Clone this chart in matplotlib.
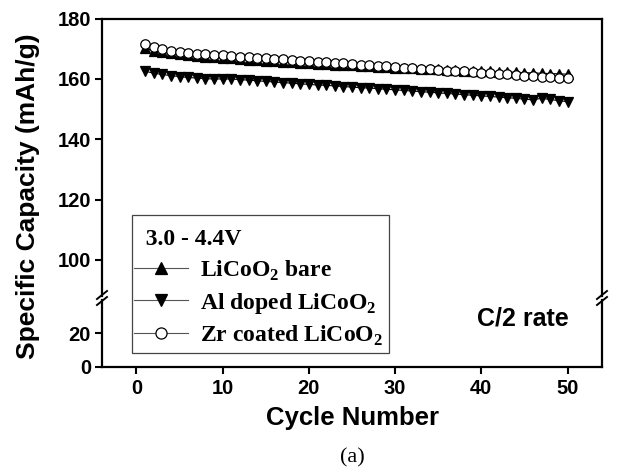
import matplotlib

matplotlib.use("Agg")
import matplotlib.pyplot as plt
from matplotlib.lines import Line2D
from matplotlib.patches import Rectangle
import numpy as np

plt.rcParams["font.family"] = ["Liberation Sans", "DejaVu Sans"]
plt.rcParams["font.weight"] = "bold"
plt.rcParams["mathtext.fontset"] = "custom"
plt.rcParams["mathtext.rm"] = "Liberation Serif:bold"
plt.rcParams["mathtext.bf"] = "Liberation Serif:bold"

cycles = np.arange(1, 51)

bare = [170.2, 169.4, 168.9, 168.5, 168.2, 167.9, 167.6, 167.4, 167.2, 167.0,
        166.8, 166.6, 166.4, 166.3, 166.1, 165.9, 165.8, 165.6, 165.4, 165.3,
        165.1, 165.0, 164.8, 164.7, 164.5, 164.4, 164.2, 164.1, 163.9, 163.8,
        163.7, 163.5, 163.4, 163.3, 163.2, 163.1, 162.9, 162.8, 162.7, 162.6,
        162.5, 162.4, 162.3, 162.2, 162.1, 162.0, 161.9, 161.8, 161.7, 161.6]

al_doped = [162.6, 161.9, 161.5, 161.1, 160.8, 160.5, 160.3, 160.1, 160.0, 160.0,
            160.0, 159.8, 159.6, 159.4, 159.2, 159.0, 158.8, 158.6, 158.4, 158.2,
            158.0, 157.9, 157.7, 157.5, 157.3, 157.1, 157.0, 156.8, 156.6, 156.4,
            156.2, 156.0, 155.8, 155.6, 155.4, 155.2, 155.0, 154.8, 154.6, 154.4,
            154.2, 154.0, 153.8, 153.6, 153.3, 153.1, 153.6, 153.2, 152.8, 152.5]

zr_coated = [171.6, 170.6, 169.9, 169.4, 169.0, 168.7, 168.4, 168.2, 168.0, 167.8,
             167.6, 167.4, 167.2, 167.0, 166.8, 166.6, 166.5, 166.3, 166.1, 165.9,
             165.8, 165.6, 165.4, 165.2, 165.0, 164.8, 164.6, 164.4, 164.2, 164.0,
             163.8, 163.6, 163.4, 163.2, 163.0, 162.8, 162.6, 162.5, 162.3, 162.1,
             161.9, 161.7, 161.5, 161.3, 161.1, 160.9, 160.8, 160.6, 160.4, 160.2]

series = [
    ("LiCoO$_\\mathrm{2}$ bare", bare, "^", "black"),
    ("Al doped LiCoO$_\\mathrm{2}$", al_doped, "v", "black"),
    ("Zr coated LiCoO$_\\mathrm{2}$", zr_coated, "o", "white"),
]

upper_ticks = [100, 120, 140, 160, 180]
lower_ticks = [0, 20]
x_ticks = [0, 10, 20, 30, 40, 50]

W, H = 618, 473
fig = plt.figure(figsize=(W / 100, H / 100), dpi=100)
left, width = 102 / W, 500 / W
ax_top = fig.add_axes([left, 1 - 296 / H, width, (296 - 18.7) / H])
ax_bot = fig.add_axes([left, 1 - 366.7 / H, width, (366.7 - 300) / H])

for ax in (ax_top, ax_bot):
    for name, y, marker, face in series:
        ax.plot(cycles, y, color="black", lw=0.8, marker=marker, ms=6.8,
                mfc=face, mec="black", mew=0.9)
    ax.set_xlim(-4, 54)
    for sp in ax.spines.values():
        sp.set_linewidth(1.6)
    ax.tick_params(direction="out", length=5, width=1.5, labelsize=14.5,
                   right=False, top=False, pad=3)
    for lbl in ax.get_xticklabels() + ax.get_yticklabels():
        lbl.set_fontweight("bold")

ax_top.set_ylim(88, 180)
ax_top.set_yticks(upper_ticks)
ax_top.spines["bottom"].set_visible(False)
ax_top.tick_params(bottom=False, labelbottom=False)

ax_bot.set_ylim(0, 40)
ax_bot.set_yticks(lower_ticks)
ax_bot.set_xticks(x_ticks)
ax_bot.spines["top"].set_visible(False)
ax_bot.tick_params(axis="x", pad=4)

# break marks
for xf in (0, 1):
    for ypix in (295, 301):
        xs = [(102 + 500 * xf - 5) / W, (102 + 500 * xf + 5) / W]
        ys = [1 - (ypix + 4) / H, 1 - (ypix - 4) / H]
        fig.add_artist(Line2D(xs, ys, color="black", lw=1.4))

fig.text(28 / W, 1 - 196 / H, "Specific Capacity (mAh/g)", rotation=90,
         ha="center", va="center", fontsize=19, fontweight="bold")
fig.text(352 / W, 1 - 418 / H, "Cycle Number", ha="center", va="center",
         fontsize=18.5, fontweight="bold")
fig.text(352 / W, 1 - 458 / H, "(a)", ha="center", va="center", fontsize=16,
         fontweight="normal", family="Liberation Serif")
fig.text(523 / W, 1 - 318 / H, "C/2 rate", ha="center", va="center",
         fontsize=18, fontweight="bold")

# legend frame spans both halves of the broken axis
fig.add_artist(Rectangle((131.7 / W, 1 - 353 / H), 257.3 / W, 138 / H,
                         transform=fig.transFigure, facecolor="white",
                         edgecolor="#444444", lw=0.9, zorder=3))

handles = [Line2D([], [], color="#555555", lw=0.8, marker=m, ms=8, mfc=f,
                  mec="black", mew=0.9) for _, _, m, f in series]
labels = [s[0] for s in series]
leg_font = {"family": "Liberation Serif", "weight": "bold", "size": 17}
leg = fig.legend(handles, labels, loc="upper left",
                 bbox_to_anchor=(131.7 / W, 1 - 227 / H),
                 borderaxespad=0, title="  3.0 - 4.4V", alignment="left",
                 frameon=False, handlelength=2.3, handletextpad=0.5,
                 borderpad=0.1, labelspacing=0.34, prop=leg_font,
                 title_fontproperties=leg_font)
leg.set_zorder(5)

fig.savefig("out.png", dpi=100)
